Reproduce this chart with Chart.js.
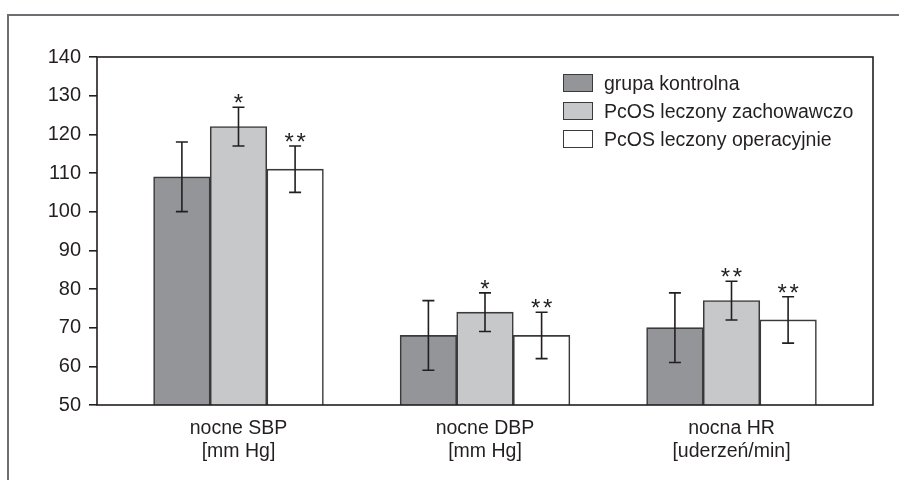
<!DOCTYPE html>
<html>
<head>
<meta charset="utf-8">
<script src="https://cdn.jsdelivr.net/npm/chart.js@4/dist/chart.umd.min.js"></script>
<style>
  html, body { margin: 0; padding: 0; background: #fff; }
  #wrap { position: relative; width: 899px; height: 480px; overflow: hidden; }
  #frame { position: absolute; left: 7px; top: 14px; width: 1000px; height: 1000px;
           border-left: 2px solid #6d6e71; border-top: 2px solid #6d6e71; box-sizing: border-box; }
  canvas { position: absolute; left: 0; top: 0; }
  #legend { position: absolute; left: 563px; top: 74px;
            font-family: 'Liberation Sans Narrow', 'Liberation Sans', Arial, sans-serif; font-size: 19.5px; color: #231f20; }
  .item { height: 28px; display: flex; align-items: flex-start; }
  .box { width: 28px; height: 16px; border: 1.5px solid #3a3a3a; margin-right: 11px; }
  .lbl { line-height: 19px; white-space: nowrap; }
</style>
</head>
<body>
<div id="wrap">
  <div id="frame"></div>
  <canvas id="c" width="899" height="480"></canvas>
  <div id="legend"></div>
</div>
<script>
const categories = [["nocne SBP", "[mm Hg]"], ["nocne DBP", "[mm Hg]"], ["nocna HR", "[uderzeń/min]"]];
const seriesNames = ["grupa kontrolna", "PcOS leczony zachowawczo", "PcOS leczony operacyjnie"];
const kontrolna = [109, 68, 70];
const kontrolnaErr = [9, 9, 9];
const zachowawczo = [122, 74, 77];
const zachowawczoErr = [5, 5, 5];
const operacyjnie = [111, 68, 72];
const operacyjnieErr = [6, 6, 6];
const kontrolnaStars = ["", "", ""];
const zachowawczoStars = ["*", "*", "**"];
const operacyjnieStars = ["**", "**", "**"];
const yTicks = [50, 60, 70, 80, 90, 100, 110, 120, 130, 140];

const FONT = "'Liberation Sans Narrow', 'Liberation Sans', Arial, sans-serif";
const INK = '#231f20';
const fills = ['#939598', '#c7c8ca', '#ffffff'];
const values = [kontrolna, zachowawczo, operacyjnie];
const errs = [kontrolnaErr, zachowawczoErr, operacyjnieErr];
const stars = [kontrolnaStars, zachowawczoStars, operacyjnieStars];

const datasets = seriesNames.map((name, i) => ({
  label: name,
  data: values[i].map((v, j) => ({ x: j, y: v })),
  err: errs[i],
  stars: stars[i],
  backgroundColor: fills[i],
  borderColor: '#3a3a3a',
  borderWidth: 1.6,
  borderSkipped: false,
  barThickness: 56.6
}));

// legend (HTML)
const leg = document.getElementById('legend');
datasets.forEach(ds => {
  const it = document.createElement('div'); it.className = 'item';
  const b = document.createElement('div'); b.className = 'box'; b.style.background = ds.backgroundColor;
  const t = document.createElement('div'); t.className = 'lbl'; t.textContent = ds.label;
  it.appendChild(b); it.appendChild(t); leg.appendChild(it);
});

const decor = {
  id: 'decor',
  afterDatasetsDraw(chart) {
    const ctx = chart.ctx, y = chart.scales.y, a = chart.chartArea;
    ctx.save();
    ctx.strokeStyle = INK; ctx.lineWidth = 1.6;
    chart.data.datasets.forEach((ds, di) => {
      const meta = chart.getDatasetMeta(di);
      meta.data.forEach((bar, j) => {
        const v = ds.data[j].y, e = ds.err[j];
        const yt = y.getPixelForValue(v + e), yb = y.getPixelForValue(v - e);
        ctx.beginPath();
        ctx.moveTo(bar.x, yt); ctx.lineTo(bar.x, yb);
        ctx.moveTo(bar.x - 6, yt); ctx.lineTo(bar.x + 6, yt);
        ctx.moveTo(bar.x - 6, yb); ctx.lineTo(bar.x + 6, yb);
        ctx.stroke();
        const s = ds.stars[j];
        if (s) {
          ctx.fillStyle = INK;
          ctx.font = '24px ' + FONT;
          ctx.textAlign = 'center'; ctx.textBaseline = 'alphabetic';
          const gap = 12, n = s.length;
          for (let k = 0; k < n; k++) {
            ctx.fillText('*', bar.x + (k - (n - 1) / 2) * gap, yt + 4);
          }
        }
      });
    });
    ctx.strokeStyle = INK; ctx.lineWidth = 1.6;
    ctx.strokeRect(a.left, a.top, a.right - a.left, a.bottom - a.top);
    ctx.restore();
  }
};

new Chart(document.getElementById('c'), {
  type: 'bar',
  data: { datasets },
  plugins: [decor],
  options: {
    responsive: false,
    animation: false,
    events: [],
    layout: { padding: { top: 57, right: 26, bottom: 0, left: 0 } },
    plugins: { legend: { display: false }, tooltip: { enabled: false } },
    scales: {
      x: {
        type: 'linear',
        offset: false,
        min: -0.574, max: 2.574,
        afterBuildTicks(axis) { axis.ticks = categories.map((c, i) => ({ value: i })); },
        afterFit(axis) { axis.height = 75; },
        grid: { display: false },
        border: { display: false },
        ticks: {
          autoSkip: false, maxRotation: 0, padding: 4,
          color: INK, font: { family: FONT, size: 19.5, lineHeight: 1.2 },
          callback: (v) => categories[v]
        }
      },
      y: {
        min: 50, max: 140,
        afterBuildTicks(axis) { axis.ticks = yTicks.map(v => ({ value: v })); },
        afterFit(axis) { axis.width = 97; },
        grid: { drawOnChartArea: false, tickLength: 8, color: INK, lineWidth: 1.6 },
        border: { display: false },
        ticks: { padding: 8, color: INK, font: { family: FONT, size: 20 } }
      }
    }
  }
});
</script>
</body>
</html>
